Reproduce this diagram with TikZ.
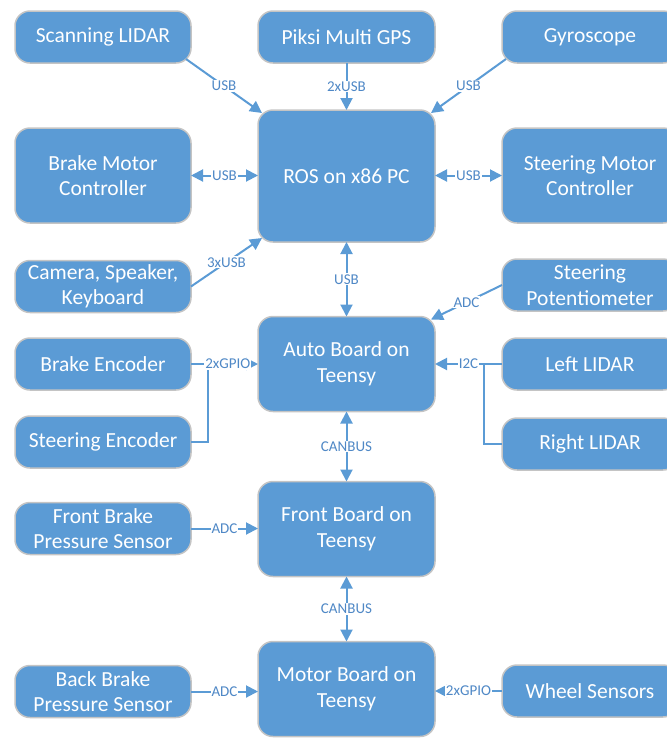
\documentclass[tikz,border=0pt]{standalone}
\usepackage{fontspec}
\setmainfont{Carlito}
\usetikzlibrary{arrows.meta, calc, positioning, shapes.misc}

\definecolor{boxblue}{HTML}{5B9BD5}
\definecolor{boxedge}{HTML}{C4C4C4}
\definecolor{tagblue}{HTML}{4F88C6}

\begin{document}
\begin{tikzpicture}[x=1pt, y=-1pt, font=\fontsize{21.5}{25.5}\selectfont, >={Triangle[length=12pt,width=12pt]}]
\tikzset{every node/.style={inner sep=1mm, outer sep=0mm}}

\tikzstyle{block}=[rectangle, rounded corners=15pt, draw=boxedge, line width=1.5pt, fill=boxblue, text=white, align=center, minimum height=52pt]
\tikzstyle{side}=[block, minimum width=176pt]
\tikzstyle{far}=[block, minimum width=176pt]
\tikzstyle{core}=[block, minimum width=177pt, minimum height=95pt]
\tikzstyle{link}=[draw=boxblue, line width=2pt]
\tikzstyle{tag}=[fill=white, text=tagblue, font=\fontsize{15}{17}\selectfont, inner sep=1pt]

\useasboundingbox (0,0) rectangle (667,740);

% top row
\node[side] (slidar) at (103,37) {Scanning LIDAR};
\node[core, minimum height=52pt] (gps) at (346.5,37) {Piksi Multi GPS};
\node[far] (gyro) at (590,37) {Gyroscope};

% pc
\node[core, minimum height=132pt] (ros) at (346.5,176) {ROS on x86 PC};
\node[side, minimum height=95pt] (bmc) at (103,175.5) {Brake Motor\\Controller};
\node[far, minimum height=95pt] (smc) at (590,175.5) {Steering Motor\\Controller};
\node[side] (cam) at (103,286.5) {Camera, Speaker,\\Keyboard};
\node[far] (spot) at (590,285) {Steering\\Potentiometer};

% boards
\node[core] (auto) at (346.5,364) {Auto Board on\\Teensy};
\node[side] (benc) at (103,364) {Brake Encoder};
\node[side] (senc) at (103,442) {Steering Encoder};
\node[far] (llidar) at (590,364) {Left LIDAR};
\node[far] (rlidar) at (590,444) {Right LIDAR};

\node[core] (front) at (346.5,529) {Front Board on\\Teensy};
\node[side] (fbps) at (103,528.5) {Front Brake\\Pressure Sensor};

\node[core] (motor) at (346.5,689) {Motor Board on\\Teensy};
\node[side] (bbps) at (103,691.5) {Back Brake\\Pressure Sensor};
\node[far] (wheel) at (590,691) {Wheel Sensors};

\coordinate (gjoin) at ($(benc.east)!0.25!(auto.west)$);
\coordinate (ijoin) at ($(auto.east)!0.73!(llidar.west)$);

% links to the pc
\draw[link, ->] ($(slidar.south east)+(-5,-4)$) -- node[tag] {USB} ($(ros.north west)+(4,3)$);
\draw[link, ->] (gps) -- node[tag] {2xUSB} (ros);
\draw[link, ->] ($(gyro.south west)+(4,-4)$) -- node[tag] {USB} ($(ros.north east)+(-4,3)$);
\draw[link, <->] (bmc.east) -- node[tag] {USB} (bmc.east -| ros.west);
\draw[link, <->] (smc.west) -- node[tag] {USB} (smc.west -| ros.east);
\draw[link, ->] (cam.east) -- node[tag] {3xUSB} ($(ros.south west)+(4,-4)$);
\draw[link, <->] (ros) -- node[tag] {USB} (auto);

% links to the auto board
\draw[link] (senc.east) -| (gjoin);
\draw[link] (rlidar.west) -| (ijoin);
\draw[link, ->] (spot.west) -- node[tag] {ADC} ($(auto.north east)+(-4,3)$);
\draw[link, ->] (benc) -- node[tag, pos=0.55] {2xGPIO} (auto);
\draw[link, ->] (llidar) -- node[tag] {I2C} (auto);

% can bus and sensors
\draw[link, <->] (auto) -- node[tag] {CANBUS} (front);
\draw[link, <->] (front) -- node[tag] {CANBUS} (motor);
\draw[link, ->] (fbps.east) -- node[tag] {ADC} (fbps.east -| front.west);
\draw[link, ->] (bbps.east) -- node[tag] {ADC} (bbps.east -| motor.west);
\draw[link, ->] (wheel.west) -- node[tag] {2xGPIO} (wheel.west -| motor.east);

\end{tikzpicture}
\end{document}
